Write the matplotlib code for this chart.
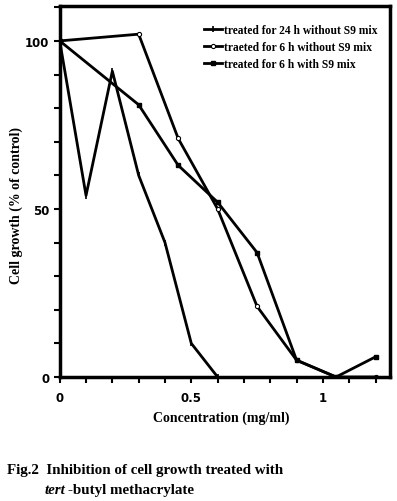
import numpy as np
import matplotlib.pyplot as plt
from matplotlib.ticker import MultipleLocator

# concentrations (mg/ml) and cell growth (% of control)
conc_24h = [0, 0.1, 0.2, 0.3, 0.4, 0.5, 0.6]
growth_24h = [100, 54, 91, 60, 40, 10, 0]

conc_6h = [0, 0.3, 0.45, 0.6, 0.75, 0.9, 1.05, 1.2]
growth_6h = [100, 102, 71, 50, 21, 5, 0, 0]

conc_6h_s9 = [0, 0.3, 0.45, 0.6, 0.75, 0.9, 1.05, 1.2]
growth_6h_s9 = [100, 81, 63, 52, 37, 5, 0, 6]

labels = ['treated for 24 h without S9 mix',
          'traeted for 6 h without S9 mix',
          'treated for 6 h with S9 mix']

serif = 'Liberation Serif'

fig = plt.figure(figsize=(3.97, 5.02), dpi=100)
ax = fig.add_axes([0.1504, 0.247, 0.832, 0.7385])

ax.plot(conc_24h, growth_24h, color='black', lw=2, marker='|', ms=4, mew=1.2,
        label=labels[0])
ax.plot(conc_6h, growth_6h, color='black', lw=2, marker='o', ms=3,
        mfc='white', mec='black', mew=0.8, label=labels[1])
ax.plot(conc_6h_s9, growth_6h_s9, color='black', lw=2, marker='s', ms=3,
        label=labels[2])

ax.set_xlim(0, 1.255)
ax.set_ylim(0, 110.3)

ax.xaxis.set_major_locator(MultipleLocator(0.5))
ax.xaxis.set_minor_locator(MultipleLocator(0.1))
ax.yaxis.set_major_locator(MultipleLocator(50))
ax.yaxis.set_minor_locator(MultipleLocator(10))
ax.set_xticklabels([], minor=True)
ax.xaxis.set_major_formatter(plt.FuncFormatter(lambda v, p: '%g' % v))

ax.tick_params(which='both', direction='out', width=1.5, length=4,
               labelsize=8.5)
for lab in ax.get_xticklabels() + ax.get_yticklabels():
    lab.set_fontweight('bold')
    lab.set_family('DejaVu Sans')
ax.tick_params(axis='x', pad=6)

for s in ax.spines.values():
    s.set_linewidth(2.5)

leg = ax.legend(loc='upper right', frameon=False, handlelength=1.6,
                handletextpad=0.2, labelspacing=0.45,
                bbox_to_anchor=(0.995, 0.98),
                prop={'family': serif, 'weight': 'bold', 'size': 8.3})

fig.text(0.04, 0.59, 'Cell growth (% of control)', rotation=90,
         ha='center', va='center', family=serif, weight='bold', size=10)
fig.text(0.557, 0.167, 'Concentration (mg/ml)', ha='center', va='center',
         family=serif, weight='bold', size=10)

fig.text(0.018, 0.062, 'Fig.2  Inhibition of cell growth treated with',
         ha='left', va='center', family=serif, weight='bold', size=10.8)
fig.text(0.113, 0.022, 'tert', ha='left', va='center', family=serif,
         weight='bold', style='italic', size=10.8)
fig.text(0.172, 0.022, '-butyl methacrylate', ha='left', va='center',
         family=serif, weight='bold', size=10.8)

fig.savefig('out.png', dpi=100)
